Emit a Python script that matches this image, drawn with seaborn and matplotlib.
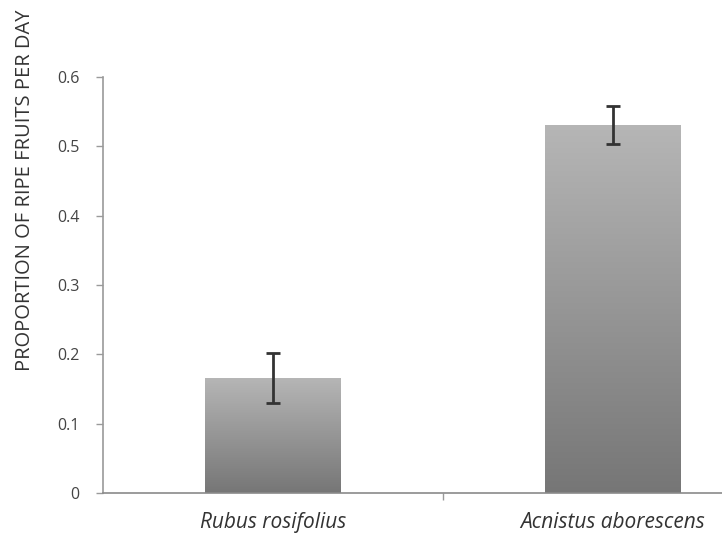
import matplotlib
matplotlib.use("Agg")
import matplotlib.pyplot as plt
import matplotlib.colors as mcolors
import numpy as np
import pandas as pd
import seaborn as sns

categories = ["Rubus rosifolius", "Acnistus aborescens"]
means = [0.166, 0.531]
errors = [0.036, 0.027]
yticks = [0, 0.1, 0.2, 0.3, 0.4, 0.5, 0.6]
ytick_labels = ["0", "0.1", "0.2", "0.3", "0.4", "0.5", "0.6"]
ylabel = "PROPORTION OF RIPE FRUITS PER DAY"

sns.set_style("white")
plt.rcParams['font.family'] = ['Open Sans', 'DejaVu Sans']

df = pd.DataFrame({"species": categories, "value": means})

fig = plt.figure(figsize=(7.22, 5.4), dpi=100)
ax = fig.add_axes([103/722, 47/540, 680/722, 416/540])

sns.barplot(data=df, x="species", y="value", color="#999999", width=0.4,
            ax=ax, errorbar=None, zorder=2)

# gradient fill for each bar
cmap = mcolors.LinearSegmentedColormap.from_list("g", ["#767676", "#b6b6b6"])
grad = np.linspace(0, 1, 256).reshape(-1, 1)
for p in list(ax.patches):
    x0, y0 = p.get_x(), p.get_y()
    w, h = p.get_width(), p.get_height()
    p.set_facecolor("none")
    p.set_edgecolor("none")
    im = ax.imshow(grad, cmap=cmap, origin="lower", aspect="auto",
                   extent=[x0, x0 + w, y0, y0 + h], zorder=2)
    im.set_clip_path(p)

ax.set_xlim(-0.5, 1.5)
ax.set_ylim(0, 0.6)

xpos = np.arange(len(categories))
ax.errorbar(xpos, means, yerr=errors, fmt="none", ecolor="#333333",
            elinewidth=2, capsize=5, capthick=2, zorder=3)

for s in ["top", "right"]:
    ax.spines[s].set_visible(False)
ax.spines["left"].set_color("#9a9a9a")
ax.spines["bottom"].set_color("#8a8a8a")
ax.spines["left"].set_linewidth(1.2)
ax.spines["bottom"].set_linewidth(1.2)

ax.set_yticks(yticks)
ax.set_yticklabels(ytick_labels)
ax.tick_params(axis="y", direction="out", length=5, width=1, color="#9a9a9a",
               labelsize=11.5, labelcolor="#444444", pad=12, left=True)
ax.set_xticks([0.5], minor=True)
ax.tick_params(axis="x", which="minor", direction="out", length=5, width=1,
               color="#9a9a9a", bottom=True)
ax.tick_params(axis="x", which="major", length=0, labelsize=15,
               labelcolor="#333333", pad=14)
for lbl in ax.get_xticklabels():
    lbl.set_fontstyle("italic")

ax.set_xlabel("")
ax.set_ylabel("")
fig.text(25/722, 1 - 190/540, ylabel, rotation=90, ha="center", va="center",
         fontsize=14.5, color="#333333")

fig.savefig("out.png", dpi=100)
